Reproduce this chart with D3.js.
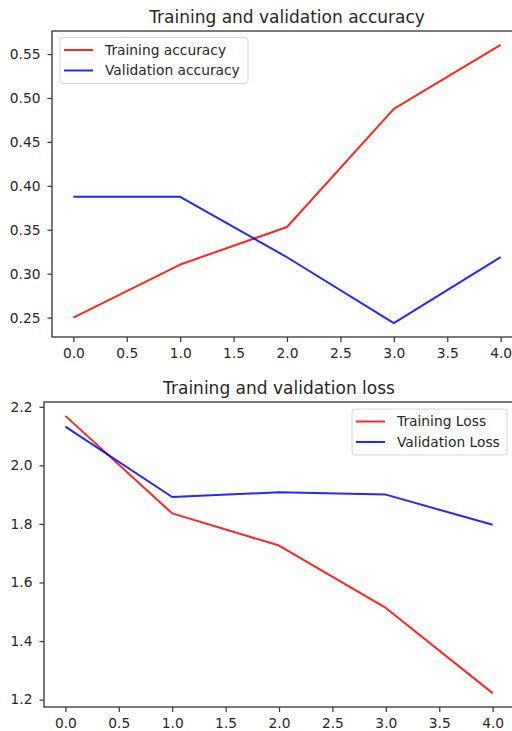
<!DOCTYPE html>
<html><head><meta charset="utf-8">
<script src="https://cdn.jsdelivr.net/npm/d3@7"></script>
<style>body{margin:0;background:#fff}svg{display:block}text{font-family:"DejaVu Sans",sans-serif;fill:#262626}</style>
</head><body>
<script>
const epochs = [0, 1, 2, 3, 4];
const trainAcc = [0.25, 0.3104, 0.3531, 0.4875, 0.5604];
const valAcc = [0.3875, 0.3875, 0.3187, 0.24375, 0.31875];
const trainLoss = [2.169, 1.836, 1.726, 1.513, 1.222];
const valLoss = [2.132, 1.892, 1.908, 1.900, 1.797];
const xTicks = [0, 0.5, 1, 1.5, 2, 2.5, 3, 3.5, 4];
const accTicks = [0.25, 0.30, 0.35, 0.40, 0.45, 0.50, 0.55];
const lossTicks = [1.2, 1.4, 1.6, 1.8, 2.0, 2.2];

const W = 512, H = 731;
const FS = 13.8;
const svg = d3.select("body").append("svg").attr("width", W).attr("height", H);

function panel(cfg) {
  const g = svg.append("g");
  const x = d3.scaleLinear().domain([-0.2, 4.2]).range([cfg.left, cfg.left + 470]);
  const allV = cfg.series.flatMap(s => s.values);
  const mn = d3.min(allV), mx = d3.max(allV), pad = (mx - mn) * 0.05;
  const y = d3.scaleLinear().domain([mn - pad, mx + pad]).range([cfg.bottom, cfg.top]);

  const xa = g.append("g").attr("transform", `translate(0,${cfg.bottom})`)
    .call(d3.axisBottom(x).tickValues(xTicks).tickFormat(d3.format(".1f")).tickSizeInner(5).tickSizeOuter(0).tickPadding(6));
  const ya = g.append("g").attr("transform", `translate(${cfg.left},0)`)
    .call(d3.axisLeft(y).tickValues(cfg.yTicks).tickFormat(d3.format(cfg.yFmt)).tickSizeInner(4.5).tickSizeOuter(0).tickPadding(7));
  [xa, ya].forEach(a => {
    a.select(".domain").remove();
    a.selectAll("line").attr("stroke", "#333").attr("stroke-width", 1.2);
    a.selectAll("text").attr("font-size", FS).attr("fill", "#333").style("font-family", '"DejaVu Sans",sans-serif');
  });
  xa.selectAll("text").attr("dy", "0.71em");

  g.append("rect").attr("x", cfg.left).attr("y", cfg.top)
    .attr("width", x.range()[1] - cfg.left).attr("height", cfg.bottom - cfg.top)
    .attr("fill", "none").attr("stroke", "#333").attr("stroke-width", 1.3);

  const line = d3.line().x((d, i) => x(epochs[i])).y(d => y(d));
  cfg.series.forEach(s => {
    g.append("path").datum(s.values).attr("d", line).attr("fill", "none")
      .attr("stroke", s.color).attr("stroke-width", 2).attr("stroke-opacity", 0.85).attr("stroke-linejoin", "round");
  });

  g.append("text").attr("x", (cfg.left + x.range()[1]) / 2).attr("y", cfg.top - 8.5)
    .attr("text-anchor", "middle").attr("font-size", 17).text(cfg.title);

  const L = cfg.legend;
  g.append("rect").attr("x", L.x).attr("y", L.y).attr("width", L.w).attr("height", 46)
    .attr("rx", 3).attr("fill", "#fff").attr("fill-opacity", 0.8).attr("stroke", "#d6d6d6").attr("stroke-width", 1);
  cfg.series.forEach((s, i) => {
    const yy = L.y + 12.5 + i * 20.5;
    g.append("line").attr("x1", L.x + 4).attr("x2", L.x + 33).attr("y1", yy).attr("y2", yy)
      .attr("stroke", s.color).attr("stroke-width", 2).attr("stroke-opacity", 0.85);
    g.append("text").attr("x", L.x + 45).attr("y", yy).attr("dy", "0.35em").attr("font-size", FS).text(s.name);
  });
}

panel({
  left: 52, top: 31, bottom: 337, title: "Training and validation accuracy", yTicks: accTicks, yFmt: ".2f",
  series: [{name: "Training accuracy", values: trainAcc, color: "#ff0000"}, {name: "Validation accuracy", values: valAcc, color: "#0000ff"}],
  legend: {x: 60, y: 37.5, w: 188}
});
panel({
  left: 44, top: 402, bottom: 707, title: "Training and validation loss", yTicks: lossTicks, yFmt: ".1f",
  series: [{name: "Training Loss", values: trainLoss, color: "#ff0000"}, {name: "Validation Loss", values: valLoss, color: "#0000ff"}],
  legend: {x: 352, y: 409, w: 155}
});
</script>
</body></html>
